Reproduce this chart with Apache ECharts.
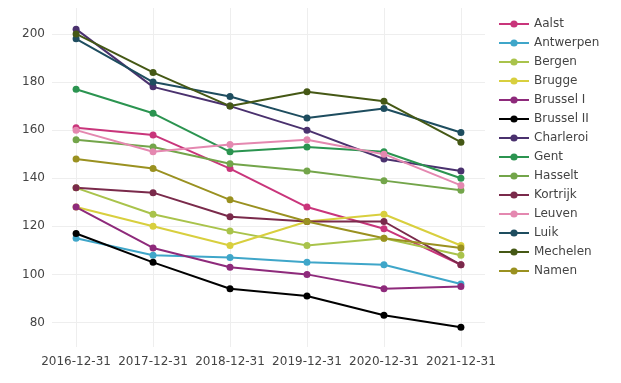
<!DOCTYPE html>
<html>
<head>
<meta charset="utf-8">
<script src="https://cdn.jsdelivr.net/npm/echarts@6/dist/echarts.min.js"></script>
<style>html,body{margin:0;padding:0;background:#fff;}#c{width:621px;height:383px;}</style>
</head>
<body>
<div id="c"></div>
<script>
const categories = ['2016-12-31','2017-12-31','2018-12-31','2019-12-31','2020-12-31','2021-12-31'];
const yTicks = [80, 100, 120, 140, 160, 180, 200];

const aalst     = [161, 158, 144, 128, 119, 104];
const antwerpen = [115, 108, 107, 105, 104, 96];
const bergen    = [136, 125, 118, 112, 115, 108];
const brugge    = [128, 120, 112, 122, 125, 112];
const brusselI  = [128, 111, 103, 100, 94, 95];
const brusselII = [117, 105, 94, 91, 83, 78];
const charleroi = [202, 178, 170, 160, 148, 143];
const gent      = [177, 167, 151, 153, 151, 140];
const hasselt   = [156, 153, 146, 143, 139, 135];
const kortrijk  = [136, 134, 124, 122, 122, 104];
const leuven    = [160, 151, 154, 156, 150, 137];
const luik      = [198, 180, 174, 165, 169, 159];
const mechelen  = [200, 184, 170, 176, 172, 155];
const namen     = [148, 144, 131, 122, 115, 111];

const seriesNames = ['Aalst','Antwerpen','Bergen','Brugge','Brussel I','Brussel II','Charleroi','Gent','Hasselt','Kortrijk','Leuven','Luik','Mechelen','Namen'];
const seriesValues = [aalst, antwerpen, bergen, brugge, brusselI, brusselII, charleroi, gent, hasselt, kortrijk, leuven, luik, mechelen, namen];
const colors = ['#c9357b','#3fa6c9','#a9c34b','#d8cf3e','#8e2a7b','#000000','#4a316e','#2b9450','#73a54a','#7a2a4b','#e488b0','#1e4d5f','#455815','#9a9120'];

const series = seriesNames.map((name, i) => ({
  name: name,
  type: 'line',
  data: seriesValues[i].map((v, j) => [j, v]),
  symbol: 'circle',
  symbolSize: 7,
  lineStyle: { width: 2, color: colors[i] },
  itemStyle: { color: colors[i] },
  emphasis: { disabled: true }
}));

const chart = echarts.init(document.getElementById('c'), null, { renderer: 'canvas' });
const font = 'DejaVu Sans, Verdana, sans-serif';
chart.setOption({
  animation: false,
  backgroundColor: '#ffffff',
  color: colors,
  grid: { left: 52, right: 136, top: 8, bottom: 36, containLabel: false },
  xAxis: {
    type: 'value',
    min: -0.313,
    max: 5.313,
    axisLine: { show: false },
    axisTick: { show: false, customValues: [0, 1, 2, 3, 4, 5] },
    axisLabel: {
      customValues: [0, 1, 2, 3, 4, 5],
      formatter: v => categories[Math.round(v)],
      color: '#444', fontFamily: font, fontSize: 12, margin: 9
    },
    splitLine: { show: true, lineStyle: { color: '#eeeeee', width: 1 } }
  },
  yAxis: {
    type: 'value',
    min: 69.8,
    max: 210.8,
    axisLine: { show: false },
    axisTick: { show: false, customValues: yTicks },
    axisLabel: {
      customValues: yTicks,
      color: '#444', fontFamily: font, fontSize: 12, margin: 7
    },
    splitLine: { show: true, lineStyle: { color: '#eeeeee', width: 1 } }
  },
  legend: {
    orient: 'vertical',
    left: 493,
    top: 12,
    itemWidth: 30,
    itemHeight: 9,
    itemGap: 5,
    textStyle: { color: '#444', fontFamily: font, fontSize: 12, lineHeight: 14 },
    data: seriesNames
  },
  series: series
});
</script>
</body>
</html>
